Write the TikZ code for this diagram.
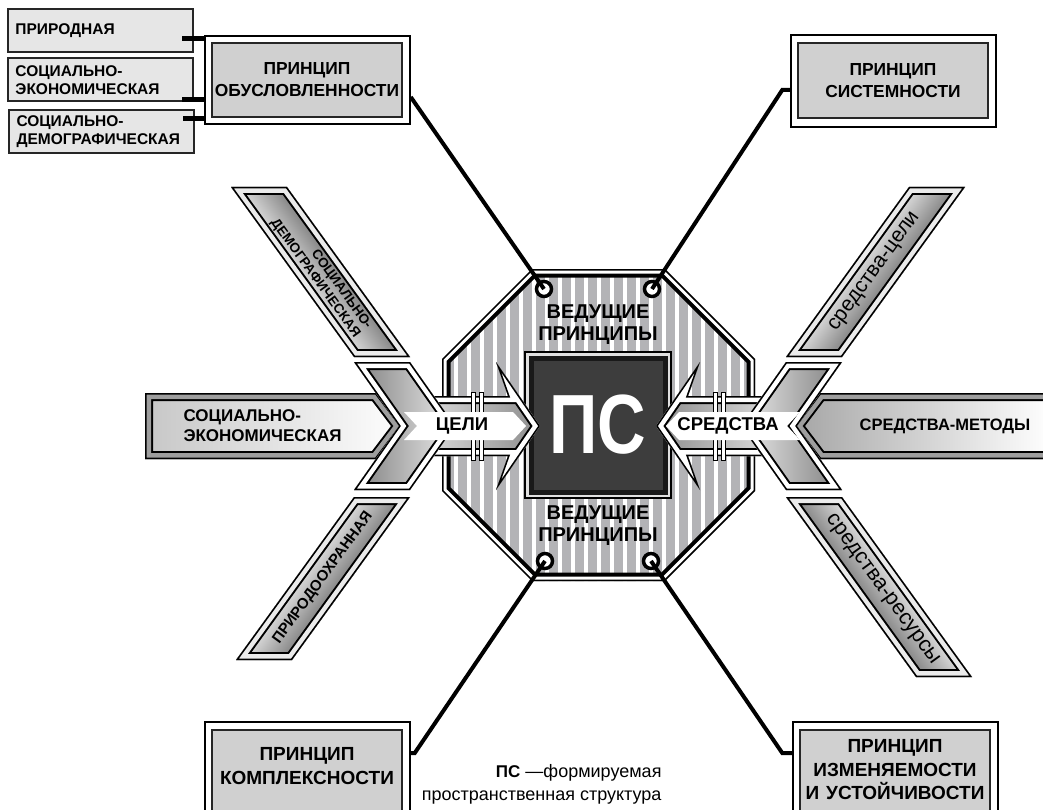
\documentclass[tikz,border=0pt]{standalone}
\usepackage{fontspec}
\setmainfont{Liberation Sans}
\definecolor{stripe}{HTML}{B3B3B6}
\definecolor{boxgray}{HTML}{D0D0D0}
\definecolor{smallgray}{HTML}{E6E6E6}
\definecolor{sqdark}{HTML}{3D3D3D}
\definecolor{rimgray}{HTML}{9E9E9E}
\newcommand\rimmed[3]{%
 \begin{scope}\clip #1; #3
 \draw[black,line width=16pt,line join=miter] #1;
 \draw[#2,line width=12pt,line join=miter] #1;
 \draw[black,line width=3pt,line join=miter] #1;
 \end{scope}}
\newcommand\rshade[5]{%
 \begin{scope}[transform canvas={shift={(#1,#2)},rotate=#3}]
 \shade[top color=#4,bottom color=#5] (-250,-25) rectangle (250,25);
 \end{scope}}
\newcommand\hshade[4]{\shade[left color=#3,right color=#4] (#1,300) rectangle (#2,560);}
\begin{document}
\begin{tikzpicture}[x=1pt,y=-1pt,
 smallbox/.style={draw=black!85,line width=2pt,fill=smallgray,minimum width=185pt,minimum height=43pt,text width=170pt,inner xsep=7.5pt,inner ysep=0pt,align=left,font=\fontsize{15.5}{18}\selectfont\bfseries},
 pframe/.style={draw=black,line width=1.5pt,fill=white,minimum width=205pt,minimum height=#1,inner sep=0pt},
 pbox/.style={draw=black!85,line width=2.2pt,fill=boxgray,minimum width=190pt,minimum height=#1,inner sep=0pt},
 ptext/.style={align=center,font=\fontsize{17.4}{22}\selectfont\bfseries},
 ptextb/.style={align=center,font=\fontsize{19}{23.5}\selectfont\bfseries},
 ring/.style={circle,draw=black,line width=3.5pt,fill=white,minimum size=15pt,inner sep=0pt},
 conn/.style={draw=black,line width=4pt},
 stub/.style={draw=black,line width=5pt},
 vp/.style={align=center,font=\fontsize{20}{22}\selectfont\bfseries},
 btxt/.style={font=\fontsize{18.5}{20}\selectfont\bfseries},
]
\useasboundingbox[fill=white] (0,0) rectangle (1043,810);

% ---------- octagon ----------
\def\oct{(532,269) -- (665,269) -- (755,359) -- (755,491) -- (665,581) -- (532,581) -- (442,491) -- (442,359) -- cycle}
\begin{scope}
 \clip \oct;
 \fill[white] (430,260) rectangle (770,590);
 \foreach \x in {445,458,...,755} \fill[stripe] (\x,260) rectangle ++(8.5,330);
 \draw[black,line width=17pt] \oct;
 \draw[white,line width=9pt] \oct;
 \draw[black,line width=3pt] \oct;
\end{scope}

% ---------- center square ----------
\node[draw=black,line width=1.2pt,fill=black!12,minimum size=146pt,inner sep=0pt] (sqO) at (598,425) {};
\node[draw=black!90,line width=5pt,fill=sqdark,minimum size=134pt,inner sep=0pt] (sq) at (598,425) {};
\node[text=white,font=\fontsize{84}{84}\selectfont\bfseries,xscale=0.8] (ps) at (598,425) {ПС};

\node[vp] (vp1) at (598,325) {ВЕДУЩИЕ\\ПРИНЦИПЫ};
\node[vp] (vp2) at (598,526) {ВЕДУЩИЕ\\ПРИНЦИПЫ};

% ---------- principle boxes ----------
\node[pframe=88pt] (obF) at (307.5,80) {};
\node[pbox=74pt,ptext] (ob) at (307,80) {ПРИНЦИП\\ОБУСЛОВЛЕННОСТИ};
\node[pframe=92pt] (siF) at (893.5,81) {};
\node[pbox=75pt,ptext] (si) at (893,80.5) {ПРИНЦИП\\СИСТЕМНОСТИ};
\node[pframe=96pt] (koF) at (307.5,770) {};
\node[pbox=82pt] (ko) at (307,771) {};
\node[ptextb] (koT) at (307,766) {ПРИНЦИП\\КОМПЛЕКСНОСТИ};
\node[pframe=96pt] (izF) at (895.5,770) {};
\node[pbox=82pt] (iz) at (895,771) {};
\node[ptextb] (izT) at (895,770) {ПРИНЦИП\\ИЗМЕНЯЕМОСТИ\\И\hspace{7pt}УСТОЙЧИВОСТИ};

% ---------- small boxes ----------
\node[smallbox] (sb1) at (100.5,30.5) {ПРИРОДНАЯ};
\node[smallbox] (sb2) at (100.5,80) {СОЦИАЛЬНО-\\ЭКОНОМИЧЕСКАЯ};
\node[smallbox] (sb3) at (101.5,131.5) {СОЦИАЛЬНО-\\ДЕМОГРАФИЧЕСКАЯ};
\coordinate (s1) at ([shift={(-12pt,-8.5pt)}]sb1.east);
\coordinate (s2) at ([shift={(-12pt,-20pt)}]sb2.east);
\coordinate (s3) at ([shift={(-12pt,12.5pt)}]sb3.east);
\draw[stub] (s1) -- (s1 -| obF.west);
\draw[stub] (s2) -- (s2 -| obF.west);
\draw[stub] (s3) -- (s3 -| obF.west);

% ---------- rings and connectors ----------
\node[ring] (c1) at (544,289) {};
\node[ring] (c2) at (652,289) {};
\node[ring] (c3) at (545,561) {};
\node[ring] (c4) at (651,561) {};
\coordinate (o1) at ([yshift=-17pt]obF.east);
\coordinate (o2) at ([yshift=-9pt]siF.west);
\coordinate (o3) at ([yshift=17pt]koF.east);
\coordinate (o4) at ([yshift=17pt]izF.west);
\draw[conn] (o1) -- (c1.center);
\draw[conn] (o2) -- ++(-8,0) -- (c2.center);
\draw[conn] (o3) -- ++(4,0) -- (c3.center);
\draw[conn] (o4) -- ++(-10,0) -- (c4.center);

% ---------- left assembly ----------
\rimmed{(145,393) -- (376,393) -- (401,426) -- (376,459) -- (145,459) -- cycle}{rimgray}{\hshade{145}{405}{black!22}{white}}
\rimmed{(231,187) -- (287,187) -- (410,357) -- (354,357) -- cycle}{black!8}{\rshade{320}{272}{-54}{black!55}{black!8}}
\rimmed{(354,497) -- (410,497) -- (292,660) -- (236,660) -- cycle}{black!8}{\rshade{323}{578}{54}{black!8}{black!55}}
\rimmed{(428,396) -- (508,396) -- (496,362) -- (540,426) -- (496,490) -- (508,456) -- (428,456) -- cycle}{white}{\hshade{428}{540}{black!15}{black!45}}
\fill[white,draw=black,line width=1pt] (471,392) rectangle (475,460);
\fill[white,draw=black,line width=1pt] (479,392) rectangle (483,460);
\rimmed{(354,362) -- (410,362) -- (455,426) -- (410,490) -- (354,490) -- (399,426) -- cycle}{white}{\hshade{354}{455}{black!50}{black!8}}
\fill[white] (404,412) -- (513,412) -- (526,426) -- (513,440) -- (404,440) -- (417,426) -- cycle;
\node[btxt] (celi) at (462,426) {ЦЕЛИ};

% ---------- right assembly ----------
\rimmed{(1051,393) -- (820,393) -- (795,426) -- (820,459) -- (1051,459) -- cycle}{rimgray}{\hshade{795}{1051}{black!35}{white}}
\rimmed{(786,357) -- (842,357) -- (965,187) -- (909,187) -- cycle}{black!8}{\rshade{875}{272}{54}{black!8}{black!55}}
\rimmed{(786,497) -- (842,497) -- (972,677) -- (916,677) -- cycle}{black!8}{\rshade{882}{592}{-54}{black!8}{black!55}}
\rimmed{(768,396) -- (688,396) -- (700,362) -- (656,426) -- (700,490) -- (688,456) -- (768,456) -- cycle}{white}{\hshade{656}{768}{black!45}{black!15}}
\fill[white,draw=black,line width=1pt] (713,392) rectangle (717,460);
\fill[white,draw=black,line width=1pt] (721,392) rectangle (725,460);
\rimmed{(842,362) -- (786,362) -- (741,426) -- (786,490) -- (842,490) -- (797,426) -- cycle}{white}{\hshade{741}{842}{black!8}{black!50}}
\fill[white] (666,426) -- (679,412) -- (800,412) -- (787,426) -- (800,440) -- (679,440) -- cycle;
\node[btxt] (sredstva) at (728,426) {СРЕДСТВА};

% ---------- band texts ----------
\node[anchor=west,align=left,font=\fontsize{17}{20}\selectfont\bfseries] (tHL) at (180,426) {СОЦИАЛЬНО-\\ЭКОНОМИЧЕСКАЯ};
\node[font=\fontsize{16.5}{20}\selectfont\bfseries] (tHR) at (945,426) {СРЕДСТВА-МЕТОДЫ};
\node[rotate=-54,align=right,inner sep=0pt,font=\fontsize{13.5}{14.5}\selectfont\bfseries] (tUL) at (321,274) {СОЦИАЛЬНО-\\ДЕМОГРАФИЧЕСКАЯ};
\node[rotate=54,font=\fontsize{15}{18}\selectfont\bfseries] (tLL) at (323,578) {ПРИРОДООХРАННАЯ};
\node[rotate=54,font=\fontsize{21}{24}\selectfont] (tUR) at (875,272) {средства-цели};
\node[rotate=-54,font=\fontsize{21.5}{24}\selectfont] (tLR) at (882,590) {средства-ресурсы};

% ---------- legend ----------
\node[anchor=east,align=right,font=\fontsize{18}{23}\selectfont] (leg) at (665,784) {{\bfseries\fontsize{17}{23}\selectfont ПС} —формируемая\\пространственная структура};
\end{tikzpicture}
\end{document}
